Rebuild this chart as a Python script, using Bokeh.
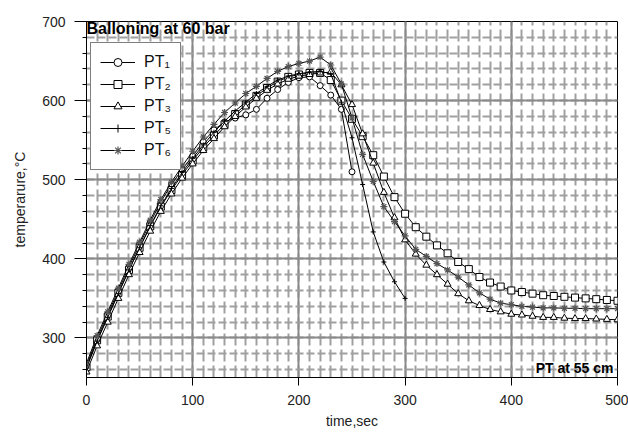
from bokeh.plotting import figure
from bokeh.models import Range1d, SingleIntervalTicker, Label, Legend, LegendItem
from bokeh.embed import file_html
from bokeh.resources import INLINE

# ---- data ----
time_full = list(range(0, 510, 10))
time_pt1 = list(range(0, 260, 10))
time_pt5 = list(range(0, 310, 10))

pt1 = [265, 300, 330, 360, 390, 418, 446, 472, 494, 513,
       530, 548, 563, 573, 578, 582, 589, 603, 614, 623,
       629, 630, 619, 607, 589, 510]

pt2 = [263, 297, 327, 357, 386, 414, 441, 466, 487, 506,
       524, 541, 556, 570, 583, 595, 606, 616, 624, 630,
       633, 635, 635, 626, 600, 577, 555, 531, 504, 478,
       457, 440, 428, 417, 407, 396, 387, 377, 370, 365,
       360, 358, 356, 354, 353, 352, 351, 350, 349, 348,
       347]

pt3 = [257, 290, 320, 350, 380, 408, 435, 460, 482, 502,
       520, 537, 552, 567, 580, 592, 603, 613, 621, 627,
       631, 633, 635, 636, 620, 595, 558, 521, 484, 452,
       424, 406, 392, 380, 368, 356, 347, 341, 336, 333,
       330, 329, 327.5, 326, 326, 325, 324.5, 324.5, 324, 323.5,
       323]

pt5 = [262, 296, 326, 356, 386, 414, 442, 467, 489, 509,
       527, 544, 560, 574, 587, 598, 609, 618, 626, 631,
       634, 636, 637, 634, 598, 553, 494, 434, 396, 371,
       350]

pt6 = [268, 303, 333, 363, 393, 421, 449, 475, 497, 517,
       536, 554, 570, 585, 597, 609, 618, 628, 637, 643,
       647, 650, 655, 645, 621, 578, 532, 498, 466, 447,
       429, 412, 403, 394, 386, 377, 367, 357, 349, 344,
       342, 340, 339, 338, 338, 337.5, 337.5, 337, 337, 337,
       337]

labels = ["PT\u2081", "PT\u2082", "PT\u2083", "PT\u2085", "PT\u2086"]
x_ticks_interval = 100
y_ticks_interval = 100

FONT = "Liberation Sans"

p = figure(width=628, height=439, output_backend="svg", toolbar_location=None,
           x_range=Range1d(0, 500), y_range=Range1d(250, 700))
p.min_border_left = 86
p.min_border_right = 11
p.min_border_top = 21
p.min_border_bottom = 62
p.outline_line_color = "black"
p.outline_line_width = 1
p.background_fill_color = "white"
p.border_fill_color = "white"

p.xaxis.ticker = SingleIntervalTicker(interval=x_ticks_interval, num_minor_ticks=10)
p.yaxis.ticker = SingleIntervalTicker(interval=y_ticks_interval, num_minor_ticks=5)

# grids
for g in (p.xgrid, p.ygrid):
    g.grid_line_color = "#8a8a8a"
    g.grid_line_width = 2
    g.minor_grid_line_color = "#a0a0a0"
    g.minor_grid_line_width = 2
p.xgrid.minor_grid_line_dash = "12 4"
p.ygrid.minor_grid_line_dash = "8 3"

# axes
for ax in (p.xaxis, p.yaxis):
    ax.axis_line_color = "black"
    ax.major_tick_line_color = "black"
    ax.minor_tick_line_color = "black"
    ax.major_label_text_font = FONT
    ax.major_label_text_font_size = "14px"
    ax.major_label_text_color = "#222222"
    ax.axis_label_text_font = FONT
    ax.axis_label_text_font_size = "14px"
    ax.axis_label_text_font_style = "normal"
    ax.axis_label_text_color = "#222222"
p.yaxis.major_tick_out = 12
p.yaxis.major_tick_in = 0
p.yaxis.minor_tick_out = 4
p.yaxis.minor_tick_in = 0
p.yaxis.major_label_standoff = 9
p.yaxis.axis_label = "temperarure,\u00b0C"
p.yaxis.axis_label_standoff = 11
p.xaxis.major_tick_out = 8
p.xaxis.major_tick_in = 0
p.xaxis.minor_tick_out = 0
p.xaxis.minor_tick_in = 0
p.xaxis.major_label_standoff = 9
p.xaxis.axis_label = "time,sec"
p.xaxis.axis_label_standoff = 5

# series
lw = 1
l1 = p.line(time_pt1, pt1, line_color="black", line_width=lw)
m1 = p.scatter(time_pt1, pt1, marker="circle", size=6, line_color="black",
               fill_color="white", line_width=1)
l2 = p.line(time_full, pt2, line_color="black", line_width=lw)
m2 = p.scatter(time_full, pt2, marker="square", size=7, line_color="black",
               fill_color="white", line_width=1)
l3 = p.line(time_full, pt3, line_color="black", line_width=lw)
m3 = p.scatter(time_full, pt3, marker="triangle", size=7, line_color="black",
               fill_color="white", line_width=1)
l5 = p.line(time_pt5, pt5, line_color="black", line_width=lw)
m5 = p.scatter(time_pt5, pt5, marker="cross", size=5, line_color="black",
               line_width=1)
l6 = p.line(time_full, pt6, line_color="black", line_width=lw)
m6 = p.scatter(time_full, pt6, marker="asterisk", size=7, line_color="#555555",
               line_width=1.2)

items = [LegendItem(label=labels[0], renderers=[l1, m1]),
         LegendItem(label=labels[1], renderers=[l2, m2]),
         LegendItem(label=labels[2], renderers=[l3, m3]),
         LegendItem(label=labels[3], renderers=[l5, m5]),
         LegendItem(label=labels[4], renderers=[l6, m6])]
legend = Legend(items=items, location=(4, 207))
legend.border_line_color = "black"
legend.border_line_width = 1
legend.background_fill_color = "white"
legend.background_fill_alpha = 1
legend.label_text_font = FONT
legend.label_text_font_size = "16px"
legend.label_text_color = "#111111"
legend.glyph_width = 35
legend.glyph_height = 20
legend.label_height = 20
legend.label_standoff = 9
legend.spacing = 2
legend.padding = 9
legend.margin = 0
p.add_layout(legend)

title = Label(x=0, y=700, text="Balloning at 60 bar", text_font=FONT,
              text_font_style="bold", text_font_size="16px", text_baseline="top",
              text_align="left", x_offset=0, y_offset=2, text_color="black")
p.add_layout(title)

note = Label(x=500, y=250, text="PT at 55 cm", text_font=FONT,
             text_font_style="bold", text_font_size="14px", text_baseline="alphabetic",
             text_align="right", x_offset=-4, y_offset=10, text_color="black")
p.add_layout(note)

open("out.html", "w").write(file_html(p, INLINE))
